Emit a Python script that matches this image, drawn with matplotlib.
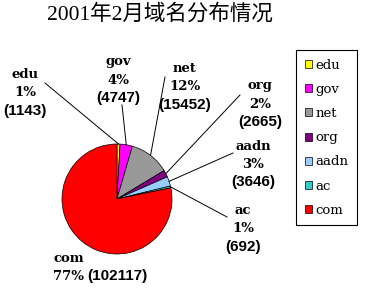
import numpy as np
import matplotlib
matplotlib.use("Agg")
import matplotlib.pyplot as plt

title = "2001年2月域名分布情况"
names = ["edu", "gov", "net", "org", "aadn", "ac", "com"]
counts = [1143, 4747, 15452, 2665, 3646, 692, 102117]
pct_labels = ["1%", "4%", "12%", "2%", "3%", "1%", "77%"]
colors = ["#FFFF00", "#FF00FF", "#999999", "#800080", "#99CCFF", "#33CCCC", "#FF0000"]

W, H = 365, 289
# label anchors in pixel coords (x, y of first line, from top-left), line start
label_xy = {
    "edu": (25, 75, (45, 83)),
    "gov": (118, 62, (122, 105)),
    "net": (185, 69, (165, 77)),
    "org": (260, 86, (240, 95)),
    "aadn": (253, 146, (233, 153)),
    "ac": (243, 211, (227, 217)),
}
line_gap = 18

def main():
    fig = plt.figure(figsize=(W / 100, H / 100), dpi=100)
    ax = fig.add_axes([0, 0, 1, 1])

    cx, cy, r = 117, H - 199, 55
    wedges, _ = ax.pie(counts, colors=colors, startangle=90, counterclock=False,
                       center=(cx, cy), radius=r,
                       wedgeprops=dict(edgecolor="black", linewidth=0.5))
    ax.set_xlim(0, W)
    ax.set_ylim(0, H)
    ax.set_aspect("equal")
    ax.axis("off")

    serif = dict(family="DejaVu Serif", fontweight="bold", fontsize=9.5)
    sans = dict(family="Liberation Sans", fontweight="bold", fontsize=11)

    for w, name, cnt, pct in zip(wedges, names, counts, pct_labels):
        if name not in label_xy:
            continue
        x, y0, (lx, ly) = label_xy[name]
        ax.text(x, H - y0, name, ha="center", va="center", **serif)
        ax.text(x, H - y0 - line_gap, pct, ha="center", va="center", **serif)
        ax.text(x, H - y0 - 2 * line_gap, "(%d)" % cnt, ha="center", va="center", **sans)
        mid = np.deg2rad((w.theta1 + w.theta2) / 2)
        ex, ey = cx + r * np.cos(mid), cy + r * np.sin(mid)
        ax.plot([lx, ex], [H - ly, ey], color="black", lw=0.7)

    # com label, no leader line
    ax.text(53, H - 259, names[-1], ha="left", va="center", **serif)
    ax.text(53, H - 276, pct_labels[-1], ha="left", va="center", **serif)
    ax.text(87, H - 276, "(%d)" % counts[-1], ha="left", va="center", **sans)

    fig.text(160 / W, 1 - 14 / H, title, ha="center", va="center", fontsize=15.5,
             family=["Liberation Serif", "Noto Sans CJK SC"])

    leg = ax.legend(wedges, names, loc="upper left",
                    bbox_to_anchor=(296 / W, 1 - 50 / H), bbox_transform=fig.transFigure,
                    prop=dict(family="DejaVu Serif", size=9.5),
                    fancybox=False, framealpha=1, edgecolor="black",
                    handlelength=0.55, handleheight=0.55, handletextpad=0.25,
                    labelspacing=0.85, borderpad=0.65, borderaxespad=0)
    leg.get_frame().set_linewidth(0.8)

    fig.savefig("out.png", dpi=100, facecolor="white")

if __name__ == "__main__":
    main()
